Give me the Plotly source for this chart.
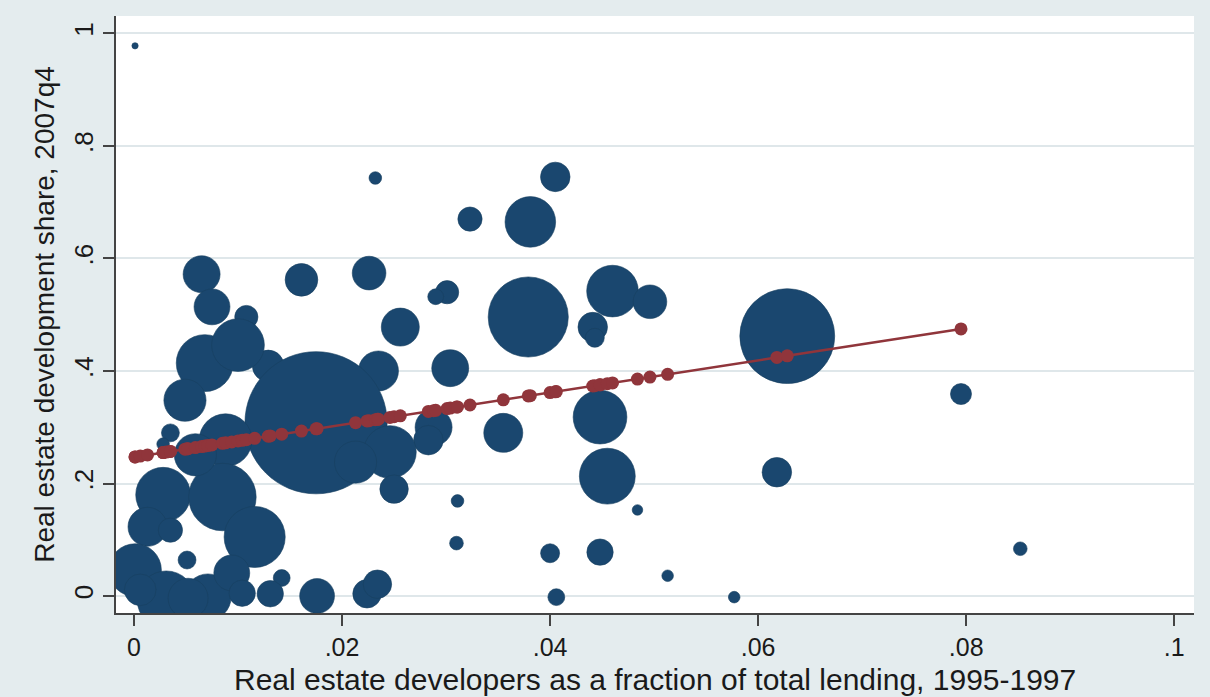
import plotly.graph_objects as go

# Real estate developers as a fraction of total lending, 1995-1997
lend_share = [
    0.0001, 0.0232, 0.0405, 0.0323, 0.0381, 0.0065, 0.0161, 0.0226, 0.0075, 0.0108,
    0.0460, 0.0496, 0.0441, 0.0443, 0.0301, 0.0290, 0.0256, 0.0379, 0.0628, 0.0795,
    0.0235, 0.0304, 0.0129, 0.0175, 0.0288, 0.0283, 0.0355, 0.0448, 0.0455, 0.0618,
    0.0246, 0.0213, 0.0250, 0.0311, 0.0310, 0.0400, 0.0448, 0.0484, 0.0513, 0.0406,
    0.0577, 0.0852, 0.0176, 0.0224, 0.0234, 0.0142, 0.0131, 0.0068, 0.0100, 0.0049,
    0.0035, 0.0028, 0.0088, 0.0028, 0.0085, 0.0116, 0.0013, 0.0035, 0.0001, 0.0051,
    0.0031, 0.0071, 0.0094, 0.0104, 0.0006, 0.0059, 0.0052,
]
# Real estate development share, 2007q4
dev_share = [
    0.978, 0.743, 0.745, 0.670, 0.665, 0.572, 0.562, 0.574, 0.514, 0.496,
    0.542, 0.523, 0.478, 0.459, 0.540, 0.532, 0.478, 0.496, 0.462, 0.359,
    0.400, 0.405, 0.409, 0.308, 0.300, 0.277, 0.290, 0.318, 0.213, 0.220,
    0.256, 0.238, 0.190, 0.169, 0.094, 0.076, 0.078, 0.153, 0.036, -0.002,
    -0.002, 0.084, 0.000, 0.004, 0.021, 0.032, 0.004, 0.414, 0.446, 0.348,
    0.290, 0.270, 0.277, 0.180, 0.176, 0.105, 0.123, 0.117, 0.046, 0.064,
    -0.007, -0.002, 0.041, 0.005, 0.011, 0.251, -0.004,
]
# Bank size weights (bubble area)
bank_weight = [
    0.36, 1.44, 7.84, 5.29, 23.0, 12.3, 9.61, 10.2, 11.6, 4.84,
    24.0, 10.2, 7.84, 3.24, 4.84, 2.25, 13.0, 57.8, 81.0, 4.00,
    14.4, 12.3, 9.00, 182.0, 12.3, 7.84, 13.7, 26.0, 28.1, 7.84,
    25.0, 16.0, 7.29, 1.44, 1.69, 3.24, 6.25, 1.00, 1.21, 2.56,
    1.21, 1.69, 10.9, 7.29, 7.29, 2.56, 6.25, 29.2, 25.0, 16.0,
    2.89, 1.44, 25.0, 27.0, 41.0, 33.6, 13.7, 5.29, 25.0, 2.89,
    30.3, 19.4, 11.6, 6.25, 9.00, 16.0, 14.4,
]
# 1 = observation used in the linear fit
in_fit = [1] * 40 + [0, 0] + [1] * 25

# Linear fit
fit_intercept = 0.247
fit_slope = 2.865

x_ticks = [0, 0.02, 0.04, 0.06, 0.08, 0.1]
x_tick_text = ["0", ".02", ".04", ".06", ".08", ".1"]
y_ticks = [0, 0.2, 0.4, 0.6, 0.8, 1.0]
y_tick_text = ["0", ".2", ".4", ".6", ".8", "1"]

x_title = "Real estate developers as a fraction of total lending, 1995-1997"
y_title = "Real estate development share, 2007q4"

NAVY = "#1a476f"
MAROON = "#90353b"

fit_x = sorted(x for x, f in zip(lend_share, in_fit) if f)
fit_y = [fit_intercept + fit_slope * x for x in fit_x]

fig = go.Figure()
fig.add_trace(go.Scatter(
    x=lend_share, y=dev_share, mode="markers",
    marker=dict(size=bank_weight, sizemode="area", sizeref=0.018, sizemin=1,
                color=NAVY, opacity=1, line=dict(width=0.6, color="#17405f")),
    hoverinfo="x+y",
))
fig.add_trace(go.Scatter(
    x=fit_x, y=fit_y, mode="lines+markers",
    line=dict(color=MAROON, width=2.5),
    marker=dict(size=13, color=MAROON),
))

fig.update_layout(
    width=1210, height=697,
    margin=dict(l=116, r=16, t=16, b=84),
    paper_bgcolor="#e4ecee", plot_bgcolor="white",
    showlegend=False,
    font=dict(family="Liberation Sans, Arial, sans-serif", color="#1a1a1a"),
    annotations=[dict(
        text=x_title, xref="paper", yref="paper", x=0.5, y=-0.1106,
        xanchor="center", yanchor="middle", showarrow=False,
        font=dict(size=30, color="#1a1a1a"),
    )],
)
fig.update_xaxes(
    range=[-0.00173, 0.1019], tickvals=x_ticks, ticktext=x_tick_text,
    ticks="outside", ticklen=11, tickwidth=1.5, tickcolor="#444",
    showline=True, linecolor="#444", linewidth=2,
    showgrid=False, zeroline=False,
    tickfont=dict(size=25),
)
fig.update_yaxes(
    range=[-0.0302, 1.031], tickvals=y_ticks, ticktext=y_tick_text,
    ticks="outside", ticklen=11, tickwidth=1.5, tickcolor="#444",
    showline=True, linecolor="#444", linewidth=2,
    showgrid=True, gridcolor="#dfe7ea", gridwidth=2,
    zeroline=False, tickangle=-90,
    tickfont=dict(size=26),
    title=dict(text=y_title, font=dict(size=28), standoff=6),
)

fig.write_html("out.html")
